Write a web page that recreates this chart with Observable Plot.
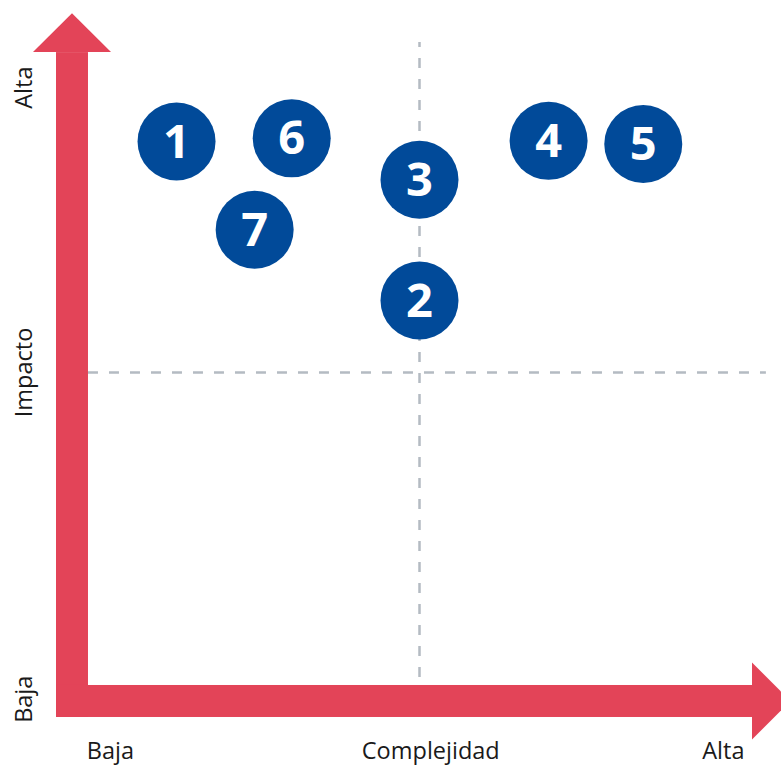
<!DOCTYPE html>
<html>
<head>
<meta charset="utf-8">
<script src="https://cdn.jsdelivr.net/npm/d3@7"></script>
<script src="https://cdn.jsdelivr.net/npm/@observablehq/plot@0.6"></script>
<style>
  html, body { margin: 0; padding: 0; background: #fff; }
  #chart svg { display: block; font-family: "Open Sans", "Noto Sans", sans-serif; }
</style>
</head>
<body>
<div id="chart"></div>
<script>
// ---- Data (conceptual 0–10 scales: complejidad × impacto) ----
const ids         = ["1", "2", "3", "4", "5", "6", "7"];
const complejidad = [1.33, 5.0, 5.0, 6.95, 8.38, 3.07, 2.51];
const impacto     = [8.69, 6.15, 8.08, 8.70, 8.65, 8.74, 7.28];

const xLabels    = ["Baja", "Complejidad", "Alta"];
const xLabelPos  = [0.33, 5.17, 9.59];
const yLabels    = ["Baja", "Impacto", "Alta"];
const yLabelPos  = [-0.22, 5.0, 9.55];

const midX = 5, midY = 5;

const items = ids.map((id, i) => ({id, x: complejidad[i], y: impacto[i]}));

// ---- Styles ----
const RED = "#e34458";
const BLUE = "#014a99";
const GRID = "#b4bbc2";
const FONT = "\"Open Sans\", \"Noto Sans\", sans-serif";

// ---- Arrow geometry (in scale units) ----
const shaft = 0.483;      // shaft thickness along x
const shaftY = 0.511;     // shaft thickness along y
const xEnd = 10.03, yEnd = 10.11;
const headHalfX = 0.589, headHalfY = 0.615;
const headLenX = 0.58, headLenY = 0.62;
const vCenter = -shaft / 2, hCenter = -shaftY / 2;

const vHead = [
  {x: vCenter - headHalfX, y1: yEnd, y2: yEnd},
  {x: vCenter, y1: yEnd, y2: yEnd + headLenY},
  {x: vCenter + headHalfX, y1: yEnd, y2: yEnd}
];
const hHead = [
  {y: hCenter - headHalfY, x1: xEnd, x2: xEnd},
  {y: hCenter, x1: xEnd, x2: xEnd + headLenX},
  {y: hCenter + headHalfY, x1: xEnd, x2: xEnd}
];

const chart = Plot.plot({
  width: 781,
  height: 767,
  margin: 0,
  x: {domain: [-1.329, 10.468], axis: null},
  y: {domain: [-1.310, 10.942], axis: null},
  marks: [
    // dashed quadrant guides
    Plot.ruleX([midX], {y1: 10.27, y2: 0, stroke: GRID, strokeWidth: 2.5, strokeDasharray: "10 11", strokeDashoffset: 5}),
    Plot.ruleY([midY], {x1: 0, x2: 10.24, stroke: GRID, strokeWidth: 2.5, strokeDasharray: "10 11"}),
    // red axis arrows
    Plot.rect([0], {x1: -shaft, x2: 0, y1: -shaftY, y2: yEnd, fill: RED}),
    Plot.rect([0], {x1: -shaft, x2: xEnd, y1: -shaftY, y2: 0, fill: RED}),
    Plot.areaY(vHead, {x: "x", y1: "y1", y2: "y2", fill: RED, curve: "linear"}),
    Plot.areaX(hHead, {y: "y", x1: "x1", x2: "x2", fill: RED, curve: "linear"}),
    // items
    Plot.dot(items, {x: "x", y: "y", r: 39, fill: BLUE, stroke: "none"}),
    Plot.text(items, {x: "x", y: "y", text: "id", fill: "white", fontSize: 47, fontWeight: "bold", fontFamily: FONT, lineAnchor: "middle", dy: 1}),
    // axis labels
    Plot.text(xLabels, {x: xLabelPos, text: d => d, frameAnchor: "bottom", dy: -9, textAnchor: "middle", lineAnchor: "bottom", fontSize: 23.5, fontFamily: FONT, fill: "#1a1a1a"}),
    Plot.text(yLabels, {y: yLabelPos, text: d => d, frameAnchor: "left", dx: 31, rotate: -90, textAnchor: "middle", lineAnchor: "bottom", fontSize: 23.5, fontFamily: FONT, fill: "#1a1a1a"})
  ]
});

document.getElementById("chart").appendChild(chart);
</script>
</body>
</html>
